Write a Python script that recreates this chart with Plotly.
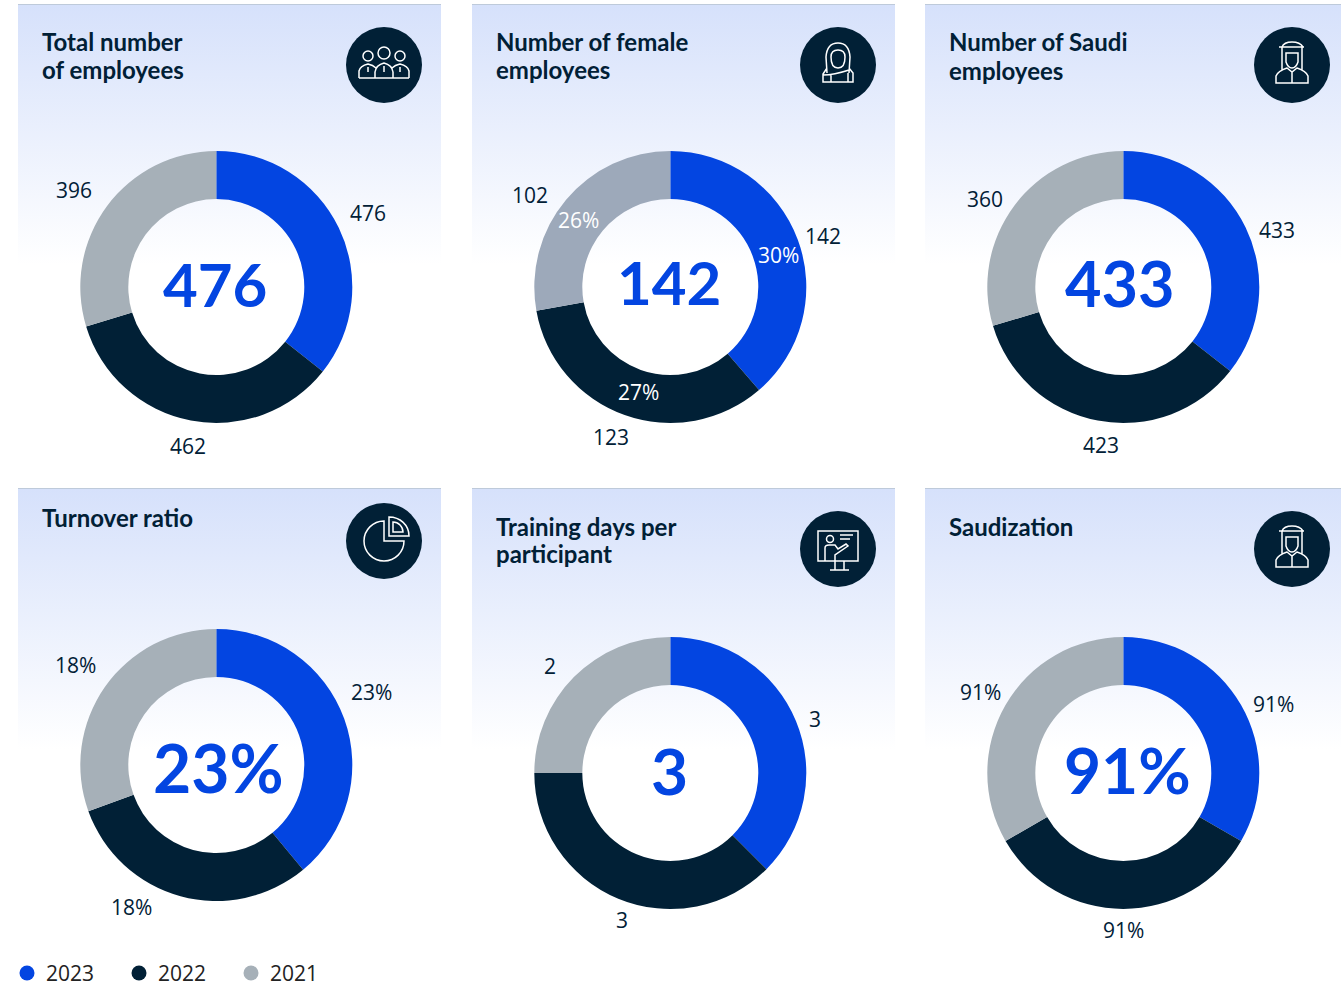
import base64
import plotly.graph_objects as go

# ---------- data ----------
years = ["2023", "2022", "2021"]
total_employees = [476, 462, 396]
female_employees = [142, 123, 102]
saudi_employees = [433, 423, 360]
turnover_ratio = [23, 18, 18]
training_days = [3, 3, 2]
saudization = [91, 91, 91]
titles = [
    ["Total number", "of employees"],
    ["Number of female", "employees"],
    ["Number of Saudi", "employees"],
    ["Turnover ratio"],
    ["Training days per", "participant"],
    ["Saudization"],
]
center_labels = ["476", "142", "433", "23%", "3", "91%"]
value_labels = [
    ["476", "462", "396"],
    ["142", "123", "102"],
    ["433", "423", "360"],
    ["23%", "18%", "18%"],
    ["3", "3", "2"],
    ["91%", "91%", "91%"],
]
female_shares = ["30%", "27%", "26%"]

# ---------- layout / style ----------
W, H = 1341, 987
BLUE, NAVY, GRAY = "#0345E1", "#012036", "#A6B0B8"
colors = [BLUE, NAVY, GRAY]
R, HOLE = 136, 0.647
series = [total_employees, female_employees, saudi_employees, turnover_ratio, training_days, saudization]
centers = [(216.3, 287), (670.3, 287), (1123.3, 287), (216.3, 765), (670.3, 773), (1123.3, 773)]
center_text_pos = [(215, 284), (669, 282), (1120, 282), (218, 767), (669, 770), (1127, 769)]
center_sizes = [60, 60, 63, 66, 64, 64]
value_pos = [
    [(368, 212.5), (188, 445.5), (74, 189.5)],
    [(823, 235.5), (611, 436.5), (530, 194.5)],
    [(1277, 229.5), (1101, 444.5), (985, 198.5)],
    [(371, 691.5), (131, 906.5), (75, 664.5)],
    [(815, 718.5), (622, 919.5), (550, 665.5)],
    [(1273, 703.5), (1123, 929.5), (980, 691.5)],
]
share_pos = [(778, 255), (638, 392), (578, 220)]
panels = [(18, 441, 5, 265), (472, 895, 5, 265), (925, 1341, 5, 265),
          (18, 441, 489, 750), (472, 895, 489, 750), (925, 1341, 489, 750)]
title_pos = [
    [(40, 41.5), (40, 69)], [(494, 41.5), (494, 69)], [(947, 41.5), (947, 70)],
    [(40, 517.5), ], [(494, 526.5), (494, 553)], [(947, 526.5)],
]
TITLE_FONT = dict(family="Lato", size=24, color=NAVY, weight=700)
VALUE_FONT = dict(family="Open Sans", size=21, color=NAVY)

grad_svg = ('<svg xmlns="http://www.w3.org/2000/svg" width="100" height="100" preserveAspectRatio="none">'
            '<defs><linearGradient id="g" x1="0" y1="0" x2="0" y2="1">'
            '<stop offset="0" stop-color="#D6E1FB"/><stop offset="1" stop-color="#FFFFFF"/>'
            '</linearGradient></defs><rect width="100" height="100" fill="url(#g)"/></svg>')
grad_uri = "data:image/svg+xml;base64," + base64.b64encode(grad_svg.encode()).decode()

fig = go.Figure()
images, shapes, annotations = [], [], []

for (x0, x1, y0, y1) in panels:
    images.append(dict(source=grad_uri, xref="x", yref="y", x=x0, y=y0, sizex=x1 - x0, sizey=y1 - y0,
                       sizing="stretch", xanchor="left", yanchor="top", layer="below"))
    shapes.append(dict(type="line", x0=x0, x1=x1, y0=y0, y1=y0, line=dict(color="#A9B8CE", width=1.5), layer="below"))

for i, vals in enumerate(series):
    cx, cy = centers[i]
    slice_colors = list(colors)
    if i == 1:
        slice_colors[2] = "#9DA9BA"
    fig.add_trace(go.Pie(
        values=vals, labels=years, sort=False, direction="clockwise", rotation=0, hole=HOLE,
        textinfo="none", hoverinfo="skip", showlegend=False,
        marker=dict(colors=slice_colors, line=dict(width=0)),
        domain=dict(x=[(cx - R) / W, (cx + R) / W], y=[1 - (cy + R) / H, 1 - (cy - R) / H]),
    ))
    tx, ty = center_text_pos[i]
    annotations.append(dict(x=tx, y=ty, text=center_labels[i],
                            font=dict(family="Lato", size=center_sizes[i], color=BLUE, weight=700)))
    for txt, (vx, vy) in zip(value_labels[i], value_pos[i]):
        annotations.append(dict(x=vx, y=vy, text=txt, font=VALUE_FONT))
    for line, (lx, ly) in zip(titles[i], title_pos[i]):
        annotations.append(dict(x=lx, y=ly, text=line, font=TITLE_FONT, xanchor="left"))

for txt, (sx, sy) in zip(female_shares, share_pos):
    annotations.append(dict(x=sx, y=sy, text=txt, font=dict(family="Open Sans", size=21, color="#FFFFFF")))

# ---------- legend ----------
legend_x = [27, 139, 251]
for name, col, lx in zip(years, colors, legend_x):
    fig.add_trace(go.Scatter(x=[lx], y=[973], mode="markers", hoverinfo="skip", showlegend=False,
                             marker=dict(size=15, color=col)))
    annotations.append(dict(x=lx + 17, y=973, text=name, xanchor="left",
                            font=dict(family="Open Sans", size=21, color="#222222")))

# ---------- icons ----------
K = 0.5523

def circle(cx, cy, r):
    k = K * r
    return (f"M{cx-r} {cy} C{cx-r} {cy-k} {cx-k} {cy-r} {cx} {cy-r} "
            f"C{cx+k} {cy-r} {cx+r} {cy-k} {cx+r} {cy} "
            f"C{cx+r} {cy+k} {cx+k} {cy+r} {cx} {cy+r} "
            f"C{cx-k} {cy+r} {cx-r} {cy+k} {cx-r} {cy} Z")

def people(cx, cy):
    def p(dx, dy):
        return f"{cx+dx} {cy+dy}"
    return " ".join([
        circle(cx, cy - 12, 6), circle(cx - 16, cy - 9, 5), circle(cx + 16, cy - 9, 5),
        f"M{p(-25,13)} L{p(25,13)}",
        f"M{p(-25,13)} L{p(-25,6)} Q{p(-24,1)} {p(-16,-1)} Q{p(-11,0)} {p(-8,3)}",
        f"M{p(25,13)} L{p(25,6)} Q{p(24,1)} {p(16,-1)} Q{p(11,0)} {p(8,3)}",
        f"M{p(-9,13)} L{p(-9,7)} Q{p(-8,0)} {p(0,-2)} Q{p(8,0)} {p(9,7)} L{p(9,13)}",
        f"M{p(0,1)} L{p(0,7)}", f"M{p(-16,2)} L{p(-16,7)}", f"M{p(16,2)} L{p(16,7)}",
    ])

def female(cx, cy):
    def p(dx, dy):
        return f"{cx+dx} {cy+dy}"
    return " ".join([
        f"M{p(-11,8)} L{p(-12,-8)} Q{p(-11,-22)} {p(0,-22)} Q{p(11,-22)} {p(12,-8)} L{p(11,8)}",
        f"M{p(-7,-8)} Q{p(-7,-15)} {p(0,-15)} Q{p(7,-15)} {p(7,-8)} Q{p(7,3)} {p(0,3)} Q{p(-7,3)} {p(-7,-8)} Z",
        f"M{p(-11,3)} L{p(-15,9)} L{p(-15,17)} L{p(15,17)} L{p(15,8)} L{p(11,3)}",
        f"M{p(-15,10)} Q{p(-4,10)} {p(11,5)}", f"M{p(-7,17)} L{p(-7,10)}", f"M{p(10,17)} L{p(10,8)}",
    ])

def saudi(cx, cy):
    def p(dx, dy):
        return f"{cx+dx} {cy+dy}"
    return " ".join([
        f"M{p(-13,-18)} L{p(12,-18)}",
        f"M{p(-10,-18)} Q{p(-8,-23)} {p(0,-23)} Q{p(8,-23)} {p(11,-18)}",
        f"M{p(-10,-18)} L{p(-10,6)}", f"M{p(10,-18)} L{p(10,6)}",
        f"M{p(-6,-12)} L{p(6,-12)} L{p(6,-3)} Q{p(4,3)} {p(0,3)} Q{p(-4,3)} {p(-6,-3)} Z",
        f"M{p(-16,18)} L{p(16,18)} L{p(16,11)} Q{p(14,6)} {p(5,3)} L{p(0,7)} L{p(-5,3)} Q{p(-14,6)} {p(-16,11)} Z",
        f"M{p(0,7)} L{p(0,18)}",
    ])

def pie_icon(cx, cy):
    def p(dx, dy):
        return f"{cx+dx} {cy+dy}"
    def q(r):
        return K * r
    r1, r2, r3 = 20, 20, 10
    return " ".join([
        # three-quarter disc, counter-clockwise from top to right
        f"M{p(0,-r1)} C{p(-q(r1),-r1)} {p(-r1,-q(r1))} {p(-r1,0)} "
        f"C{p(-r1,q(r1))} {p(-q(r1),r1)} {p(0,r1)} C{p(q(r1),r1)} {p(r1,q(r1))} {p(r1,0)} L{p(0,0)} Z",
        f"M{p(5,-24)} C{p(5+q(r2),-24)} {p(25,-5-q(r2))} {p(25,-5)} L{p(5,-5)} Z",
        f"M{p(9,-19)} C{p(9+q(r3),-19)} {p(19,-9-q(r3))} {p(19,-9)} L{p(9,-9)} Z",
    ])

def training(cx, cy):
    def p(dx, dy):
        return f"{cx+dx} {cy+dy}"
    return " ".join([
        f"M{p(-20,-18)} L{p(20,-18)} L{p(20,12)} L{p(-20,12)} Z",
        circle(cx - 8, cy - 10, 3.5),
        f"M{p(2,-14)} L{p(15,-14)}", f"M{p(2,-10)} L{p(12,-10)}",
        f"M{p(-13,12)} L{p(-13,-1)} Q{p(-13,-4)} {p(-9,-4)} L{p(-3,-4)} L{p(0,0)} L{p(8,-5)} L{p(10,-3)} L{p(-3,6)} L{p(-3,12)}",
        f"M{p(-3,12)} L{p(-3,21)}", f"M{p(6,12)} L{p(6,21)}", f"M{p(-8,21)} L{p(11,21)}",
    ])

icon_centers = [(384, 65), (838, 65), (1292, 65), (384, 541), (838, 549), (1292, 549)]
icon_paths = [people(384, 65), female(838, 65), saudi(1292, 65), pie_icon(384, 541), training(838, 549), saudi(1292, 549)]
for (cx, cy), path in zip(icon_centers, icon_paths):
    shapes.append(dict(type="circle", x0=cx - 38, x1=cx + 38, y0=cy - 38, y1=cy + 38, fillcolor=NAVY, line=dict(width=0)))
    shapes.append(dict(type="path", path=path, line=dict(color="#FFFFFF", width=1.5)))

for a in annotations:
    a.setdefault("xanchor", "center")
    a.update(yanchor="middle", showarrow=False, xref="x", yref="y")

fig.update_layout(
    width=W, height=H, margin=dict(l=0, r=0, t=0, b=0, autoexpand=False),
    paper_bgcolor="#FFFFFF", plot_bgcolor="rgba(0,0,0,0)",
    xaxis=dict(range=[0, W], visible=False, fixedrange=True),
    yaxis=dict(range=[H, 0], visible=False, fixedrange=True),
    images=images, shapes=shapes, annotations=annotations, showlegend=False,
)
fig.write_html("out.html", config={"displayModeBar": False},
               post_script="document.body.style.margin='0';")
